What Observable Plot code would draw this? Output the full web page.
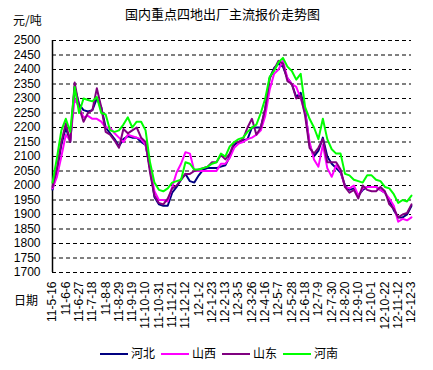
<!DOCTYPE html>
<html>
<head>
<meta charset="utf-8">
<script src="https://cdn.jsdelivr.net/npm/d3@7"></script>
<script src="https://cdn.jsdelivr.net/npm/@observablehq/plot@0.6"></script>
<style>
  html, body { margin: 0; padding: 0; background: #fff; }
  #wrap { position: relative; width: 433px; height: 370px; overflow: hidden; font-family: "Noto Sans CJK SC", "Liberation Sans", sans-serif; }
  #wrap svg { position: absolute; left: 0; top: 0; }
  .lbl { position: absolute; font-size: 12px; line-height: 14px; color: #000; white-space: nowrap; }
  #legend { position: absolute; left: 0; top: 345px; width: 433px; height: 16px; }
  .item { position: absolute; top: 0; height: 16px; width: 60px; }
  .sw { position: absolute; top: 8px; left: 0; width: 28px; height: 2px; }
  .txt { position: absolute; left: 31px; top: 0; font-size: 12px; line-height: 16px; white-space: nowrap; }
</style>
</head>
<body>
<div id="wrap">
  <div class="lbl" id="title" style="left:0;width:445px;text-align:center;top:7px;font-size:13px;">国内重点四地出厂主流报价走势图</div>
  <div class="lbl" style="left:13px;top:13px;">元/吨</div>
  <div class="lbl" style="left:14px;top:293px;">日期</div>
  <div id="legend"></div>
</div>
<script>
// ---- data ----
const seriesNames = ["河北", "山西", "山东", "河南"];
const seriesColors = ["#000080", "#ff00ff", "#800080", "#00ff00"];
const startDate = "2011-05-16"; // weekly observations (Mondays)
const hebei = [1985,2050,2140,2200,2150,2340,2280,2260,2255,2260,2300,2270,2200,2180,2160,2135,2160,2170,2165,2165,2150,2140,2060,1960,1935,1930,1930,1975,1995,2020,2040,2015,2010,2035,2055,2060,2060,2060,2065,2070,2100,2140,2150,2155,2160,2200,2200,2200,2265,2370,2405,2420,2410,2370,2350,2305,2320,2260,2140,2100,2120,2165,2100,2075,2060,2045,2000,1985,1990,1965,1985,1995,1995,1995,1985,1975,1950,1915,1890,1890,1900,1930];
const shanxi = [1990,2030,2100,2175,2155,2300,2270,2235,2240,2230,2230,2220,2200,2200,2180,2165,2150,2175,2170,2165,2160,2140,2060,1980,1950,1950,1945,1995,2045,2075,2115,2110,2050,2050,2050,2050,2050,2050,2075,2075,2095,2130,2145,2150,2160,2165,2175,2190,2240,2330,2385,2400,2430,2370,2350,2340,2300,2250,2150,2090,2065,2140,2060,2030,2070,2050,1995,1990,2000,1965,1990,1995,1995,1995,1985,1975,1955,1930,1875,1885,1880,1890];
const shandong = [1995,2060,2150,2215,2150,2355,2270,2220,2250,2260,2335,2270,2185,2175,2155,2130,2195,2180,2190,2200,2165,2150,2045,1965,1940,1935,1955,1990,2000,2020,2040,2040,2050,2055,2060,2065,2080,2080,2105,2090,2110,2150,2150,2160,2200,2230,2175,2200,2265,2370,2400,2430,2420,2360,2350,2300,2310,2240,2130,2110,2130,2160,2080,2080,2080,2055,1995,1975,1985,1955,2000,1985,1980,1980,1995,1980,1935,1920,1890,1900,1905,1935];
const henan = [2010,2095,2190,2230,2185,2340,2250,2300,2295,2290,2305,2250,2245,2190,2185,2190,2210,2235,2200,2220,2220,2190,2080,2010,1985,1980,1990,2010,2015,2020,2080,2075,2055,2055,2060,2065,2075,2080,2110,2100,2135,2150,2160,2165,2185,2200,2210,2250,2300,2375,2395,2425,2440,2410,2395,2365,2385,2270,2230,2200,2160,2230,2160,2125,2110,2110,2040,2035,2020,2015,2010,2035,2035,2020,2015,1995,1990,1970,1940,1950,1945,1965];
const xTickLabels = ["11-5-16","11-6-6","11-6-27","11-7-18","11-8-8","11-8-29","11-9-19","11-10-10","11-10-31","11-11-21","11-12-12","12-1-2","12-1-23","12-2-13","12-3-5","12-3-26","12-4-16","12-5-7","12-5-28","12-6-18","12-7-9","12-7-30","12-8-20","12-9-10","12-10-1","12-10-22","12-11-12","12-12-3"];
const yTicks = [1700,1750,1800,1850,1900,1950,2000,2050,2100,2150,2200,2250,2300,2350,2400,2450,2500];

// ---- build table ----
const parseLabel = s => { const [y, m, d] = s.split("-").map(Number); return new Date(Date.UTC(2000 + y, m - 1, d)); };
const fmt = d => `${d.getUTCFullYear() % 100}-${d.getUTCMonth() + 1}-${d.getUTCDate()}`;
const t0 = new Date(startDate + "T00:00:00Z");
const allSeries = [hebei, shanxi, shandong, henan];
const rows = [];
allSeries.forEach((vals, k) => {
  vals.forEach((v, i) => rows.push({date: new Date(t0.getTime() + i * 7 * 86400000), value: v, series: seriesNames[k]}));
});
const tickDates = xTickLabels.map(parseLabel);

const chart = Plot.plot({
  width: 433,
  height: 370,
  marginTop: 40,
  marginLeft: 52,
  marginRight: 22,
  marginBottom: 98,
  style: {fontFamily: "'Liberation Sans', Arial, sans-serif", fontSize: "12px", background: "white", color: "black"},
  x: {type: "utc", domain: [tickDates[0], tickDates[tickDates.length - 1]]},
  y: {domain: [1700, 2500]},
  color: {domain: seriesNames, range: seriesColors},
  marks: [
    Plot.ruleY(yTicks, {stroke: "black", strokeWidth: 1, strokeDasharray: "4,3"}),
    Plot.ruleX([tickDates[0]], {y1: 1700, y2: 2500, stroke: "black", strokeWidth: 1.5}),
    Plot.axisY({ticks: yTicks, tickFormat: d => String(d), tickSize: 0, tickPadding: 12, label: null, fontSize: 12}),
    Plot.axisX({ticks: tickDates, tickFormat: fmt, tickRotate: -90, tickSize: 0, tickPadding: 9, label: null, fontSize: 12}),
    Plot.line(rows, {x: "date", y: "value", z: "series", stroke: "series", strokeWidth: 2})
  ]
});
document.getElementById("wrap").insertBefore(chart, document.getElementById("title"));

// ---- legend ----
const legend = document.getElementById("legend");
const legendX = [100, 161, 222, 283];
seriesNames.forEach((name, k) => {
  const it = document.createElement("div");
  it.className = "item";
  it.style.left = legendX[k] + "px";
  it.innerHTML = `<div class="sw" style="background:${seriesColors[k]}"></div><div class="txt">${name}</div>`;
  legend.appendChild(it);
});
</script>
</body>
</html>
